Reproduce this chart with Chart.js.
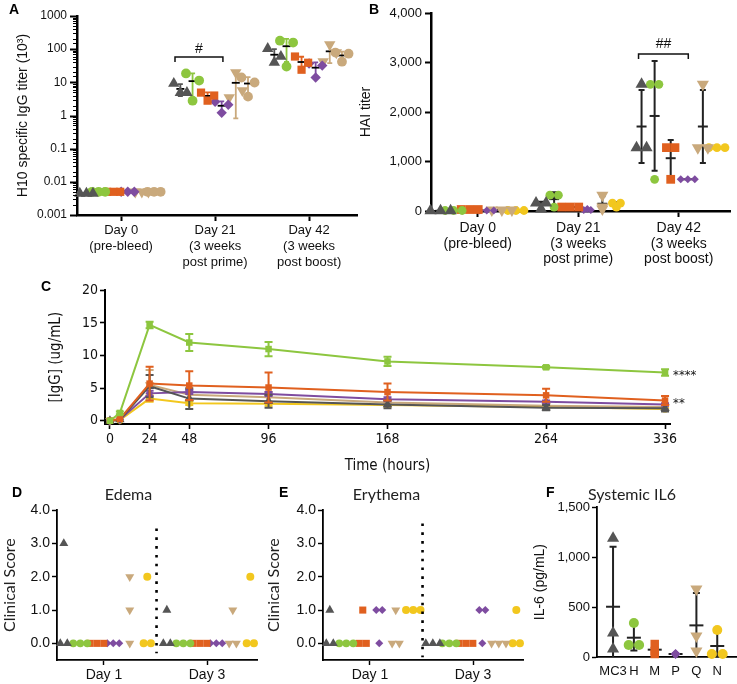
<!DOCTYPE html>
<html lang="en">
<head>
<meta charset="utf-8">
<title>H10 immunogenicity panels</title>
<script src="https://cdn.jsdelivr.net/npm/chart.js@4.4.1/dist/chart.umd.min.js"></script>
<style>
  html, body { margin: 0; padding: 0; background: #fff; overflow: hidden; }
  body { position: relative; width: 737px; height: 684px; }
  canvas { position: absolute; }
  .tag { position: absolute; font: bold 14px "Liberation Sans", Arial, sans-serif; line-height: 14px; color: #000; }
</style>
</head>
<body>
<canvas id="chartA" width="365" height="280" style="left:0;top:0"></canvas>
<canvas id="chartB" width="382" height="280" style="left:355px;top:0"></canvas>
<canvas id="chartC" width="737" height="204" style="left:0;top:280px"></canvas>
<canvas id="chartD" width="296" height="204" style="left:0;top:480px"></canvas>
<canvas id="chartE" width="346" height="204" style="left:250px;top:480px"></canvas>
<canvas id="chartF" width="228" height="204" style="left:528px;top:480px"></canvas>
<div class="tag" style="left:9px;top:2px">A</div>
<div class="tag" style="left:369px;top:2px">B</div>
<div class="tag" style="left:41px;top:279px">C</div>
<div class="tag" style="left:12px;top:485px">D</div>
<div class="tag" style="left:279px;top:485px">E</div>
<div class="tag" style="left:546px;top:485px">F</div>
<script>
Chart.defaults.font.family = '"Liberation Sans", Arial, sans-serif';
Chart.defaults.color = '#111';
Chart.defaults.animation = false;
Chart.defaults.events = [];
Chart.defaults.plugins.legend.display = false;
Chart.defaults.plugins.tooltip.enabled = false;

const gray = '#555555', green = '#8DC63F', orange = '#E0601F', purple = '#7E4CA0', tan = '#C9A97C', yellow = '#F2C71E';
const narrow = '"Liberation Sans Narrow", "Arial Narrow", "DejaVu Sans Condensed", sans-serif';

// group order everywhere: MC3, H, M, P, Q, N
const groupNames = ['MC3', 'H', 'M', 'P', 'Q', 'N'];
const shapes = ['triangle', 'circle', 'rect', 'rectRot', 'triangle', 'circle'];
const turns = [0, 0, 0, 0, 180, 0];

// A - H10 specific IgG titer (10^3), three animals per group: [day0, day21, day42]
const titerDays = [['Day 0', '(pre-bleed)'], ['Day 21', '(3 weeks', 'post prime)'], ['Day 42', '(3 weeks', 'post boost)']];
const igMC3 = [[0.0045, 0.0045, 0.0045], [9.2, 4.9, 4.9], [104, 40, 60]];
const igH = [[0.005, 0.005, 0.005], [18.5, 2.8, 11.3], [180, 30, 158]];
const igM = [[0.005, 0.005, 0.005], [4.9, 2.8, 4.0], [60, 24, 39]];
const igP = [[0.005, 0.005, 0.005], [2.6, 1.2, 2.1], [37, 14, 32]];
const igQ = [[0.005, 0.005, 0.005], [3.5, 19.8, 5.7], [42, 137, 79]];
const igN = [[0.005, 0.005, 0.005], [14, 3.7, 9.9], [79, 42, 73]];

// B - HAI titer
const haiMC3 = [[5, 5, 5], [160, 40, 160], [1280, 2560, 1280]];
const haiH = [[10, 10, 10], [320, 80, 320], [2560, 640, 2560]];
const haiM = [[30, 30, 30], [80, 80, 80], [1280, 640, 1280]];
const haiP = [[10, 10, 10], [40, 20, 20], [640, 640, 640]];
const haiQ = [[20, 20, 20], [320, 80, 40], [1280, 2560, 1280]];
const haiN = [[10, 10, 10], [160, 80, 160], [1280, 1280, 1280]];
const haiTicks = [0, 1000, 2000, 3000, 4000];

// C - serum IgG over time (mean and error)
const hours = [0, 6, 24, 48, 96, 168, 264, 336];
const hourTicks = [0, 24, 48, 96, 168, 264, 336];
const pkH = [0, 1.2, 14.7, 12.0, 11.0, 9.1, 8.2, 7.4];
const pkHErr = [0, 0.2, 0.5, 1.3, 1.1, 0.7, 0.2, 0.5];
const pkM = [0, 0.3, 5.7, 5.4, 5.1, 4.4, 3.9, 3.1];
const pkMErr = [0, 0, 2.6, 2.2, 2.3, 1.3, 1.0, 0.7];
const pkMC3 = [0, 0.2, 5.3, 3.4, 3.0, 2.5, 2.0, 1.9];
const pkMC3Err = [0, 0, 1.7, 1.6, 1.0, 0.6, 0.4, 0.5];
const pkP = [0, 0.2, 4.2, 4.4, 4.1, 3.3, 2.9, 2.5];
const pkPErr = [0, 0, 0.4, 0.3, 0.3, 0.3, 0.2, 0.2];
const pkQ = [0, 0.2, 5.5, 4.0, 3.6, 2.8, 2.3, 2.1];
const pkQErr = [0, 0, 2.3, 0.8, 0.8, 0.5, 0.4, 0.3];
const pkN = [0, 0.1, 3.4, 2.7, 2.6, 2.4, 2.1, 1.8];
const pkNErr = [0, 0, 0.5, 0.3, 0.3, 0.2, 0.2, 0.2];
const pkTicks = [0, 5, 10, 15, 20];

// D / E - clinical scores: [day1, day3]
const scoreDays = ['Day 1', 'Day 3'];
const scoreTicks = [0, 1, 2, 3, 4];
const edemaMC3 = [[0, 3, 0], [1, 0, 0]];
const edemaH = [[0, 0, 0], [0, 0, 0]];
const edemaM = [[0, 0, 0], [0, 0, 0]];
const edemaP = [[0, 0, 0], [0, 0, 0]];
const edemaQ = [[2, 1, 0], [1, 0, 0]];
const edemaN = [[2, 0, 0], [2, 0, 0]];
const erythemaMC3 = [[1, 0, 0], [0, 0, 0]];
const erythemaH = [[0, 0, 0], [0, 0, 0]];
const erythemaM = [[1, 0, 0], [0, 0, 0]];
const erythemaP = [[1, 1, 0], [1, 1, 0]];
const erythemaQ = [[1, 0, 0], [0, 0, 0]];
const erythemaN = [[1, 1, 1], [1, 0, 0]];

// F - systemic IL-6 (pg/mL)
const il6MC3 = [1190, 240, 80];
const il6H = [340, 120, 120];
const il6M = [130, 60, 30];
const il6P = [35, 30, 25];
const il6Q = [680, 210, 60];
const il6N = [270, 30, 30];
const il6Ticks = [0, 500, 1000, 1500];

function mean(a) { return a.reduce((s, v) => s + v, 0) / a.length; }
function sd(a) {
  const m = mean(a);
  return Math.sqrt(a.reduce((s, v) => s + (v - m) * (v - m), 0) / (a.length - 1));
}
function isDecade(v) { const l = Math.log10(v); return Math.abs(l - Math.round(l)) < 1e-9; }

// where the animals of one group sit around the group centre
function byIndex(step) {
  return (vals, c) => vals.map((v, i) => c + (i - (vals.length - 1) / 2) * step);
}
// equal values are laid side by side, like the GraphPad scatter
function byTies(steps) {
  return (vals, c, g) => {
    const count = {}, seen = {};
    vals.forEach(v => { count[v] = (count[v] || 0) + 1; });
    return vals.map(v => {
      const i = seen[v] = (seen[v] === undefined ? 0 : seen[v] + 1);
      return c + (i - (count[v] - 1) / 2) * steps[g];
    });
  };
}

function scatterSets(groups, offsets, colors, radii, place) {
  return groups.map((days, g) => ({
    data: days.flatMap((vals, d) => {
      const xs = place(vals, d + offsets[g], g);
      return vals.map((v, i) => ({ x: xs[i], y: v }));
    }),
    showLine: false,
    clip: false,
    pointStyle: shapes[g],
    pointRotation: turns[g],
    pointRadius: radii[g],
    pointBackgroundColor: colors[g],
    pointBorderColor: colors[g],
    pointBorderWidth: 0
  }));
}

// mean line with SD whiskers for every group and day
function summaryPlugin(groups, offsets, st) {
  return {
    id: 'summary',
    beforeDatasetsDraw(chart) {
      const { ctx, scales: { x, y } } = chart;
      ctx.save();
      ctx.lineWidth = st.width;
      groups.forEach((days, g) => days.forEach((vals, d) => {
        const m = mean(vals), s = sd(vals);
        const px = x.getPixelForValue(d + offsets[g]);
        const pm = y.getPixelForValue(m);
        ctx.strokeStyle = st.errColor ? st.errColor[g] : st.color;
        if (s > 0) {
          const top = Math.max(y.getPixelForValue(m + s), chart.chartArea.top);
          let bot = chart.chartArea.bottom, cap = false;
          if (m - s > y.min) { bot = y.getPixelForValue(m - s); cap = true; }
          else if (y.type === 'logarithmic') { bot = pm; }
          ctx.beginPath();
          ctx.moveTo(px, top); ctx.lineTo(px, bot);
          ctx.moveTo(px - st.cap, top); ctx.lineTo(px + st.cap, top);
          if (cap) { ctx.moveTo(px - st.cap, bot); ctx.lineTo(px + st.cap, bot); }
          ctx.stroke();
        }
        ctx.strokeStyle = st.color;
        ctx.beginPath();
        ctx.moveTo(px - st.half, pm); ctx.lineTo(px + st.half, pm);
        ctx.stroke();
      }));
      ctx.restore();
    }
  };
}

function bracketPlugin(x1, x2, yv, label, drop, gap) {
  return {
    id: 'bracket',
    afterDatasetsDraw(chart) {
      const { ctx, scales: { x, y } } = chart;
      const a = x.getPixelForValue(x1), b = x.getPixelForValue(x2), py = y.getPixelForValue(yv);
      ctx.save();
      ctx.strokeStyle = '#111';
      ctx.lineWidth = 1.5;
      ctx.beginPath();
      ctx.moveTo(a, py + drop); ctx.lineTo(a, py); ctx.lineTo(b, py); ctx.lineTo(b, py + drop);
      ctx.stroke();
      ctx.fillStyle = '#111';
      ctx.font = '14px "Liberation Sans", Arial, sans-serif';
      ctx.textAlign = 'center';
      ctx.textBaseline = 'alphabetic';
      ctx.fillText(label, (a + b) / 2, py - gap);
      ctx.restore();
    }
  };
}

function dividerPlugin(xv, yTop, yBottom) {
  return {
    id: 'divider',
    afterDatasetsDraw(chart) {
      const { ctx, scales: { x, y } } = chart;
      const px = x.getPixelForValue(xv);
      ctx.save();
      ctx.strokeStyle = '#000';
      ctx.lineWidth = 2.6;
      ctx.setLineDash([2.6, 6.2]);
      ctx.beginPath();
      ctx.moveTo(px, y.getPixelForValue(yTop));
      ctx.lineTo(px, y.getPixelForValue(yBottom));
      ctx.stroke();
      ctx.restore();
    }
  };
}

// small and large tick marks on the log axis
const logTicks = {
  id: 'logTicks',
  afterDraw(chart) {
    const { ctx } = chart, s = chart.scales.y;
    ctx.save();
    ctx.strokeStyle = '#000';
    s.ticks.forEach(t => {
      const py = Math.round(s.getPixelForValue(t.value)) + 0.5;
      const major = isDecade(t.value);
      ctx.lineWidth = major ? 2 : 1;
      ctx.beginPath();
      ctx.moveTo(s.right - (major ? 7 : 4), py);
      ctx.lineTo(s.right, py);
      ctx.stroke();
    });
    ctx.restore();
  }
};

function blackAxis(width, tickLen) {
  return {
    border: { color: '#000', width: width },
    grid: { drawOnChartArea: false, tickLength: tickLen, tickWidth: width * 0.8, tickColor: '#000' }
  };
}

// ---------- A
const offsetsA = [-0.37, -0.24, -0.08, 0.07, 0.22, 0.35];
const titerGroups = [igMC3, igH, igM, igP, igQ, igN];
new Chart('chartA', {
  type: 'scatter',
  data: { datasets: scatterSets(titerGroups, offsetsA, [gray, green, orange, purple, tan, tan], [6.6, 4.9, 5.8, 5.2, 6.6, 4.9], byIndex(0.07)) },
  options: {
    responsive: false,
    layout: { padding: { top: 16, right: 8, left: 0, bottom: 0 } },
    scales: {
      x: {
        type: 'linear', min: -0.47, max: 2.51,
        afterBuildTicks: s => { s.ticks = titerDays.map((_, i) => ({ value: i })); },
        afterFit: s => { s.height = 65; },
        ticks: { callback: v => titerDays[v], autoSkip: false, maxRotation: 0, padding: 2, font: { size: 13, lineHeight: 1.2 } },
        ...blackAxis(2.5, 6)
      },
      y: {
        type: 'logarithmic', min: 0.001, max: 1000,
        afterFit: s => { s.width = 77; },
        ticks: { callback: v => isDecade(v) ? String(+v.toPrecision(1)) : '', autoSkip: false, padding: 3, font: { size: 12 } },
        border: { color: '#000', width: 2.5 },
        grid: { drawOnChartArea: false, tickLength: 7, tickColor: 'rgba(0,0,0,0)' },
        title: { display: true, text: 'H10 specific IgG titer (10³)', font: { size: 14 }, padding: { top: 15, bottom: 0 } }
      }
    }
  },
  plugins: [
    summaryPlugin(titerGroups, offsetsA, { color: '#000', errColor: [gray, green, orange, purple, tan, tan], width: 1.8, half: 4, cap: 2.5 }),
    logTicks,
    bracketPlugin(0.573, 1.083, 58, '#', 5, 4)
  ]
});

// ---------- B
const offsetsB = [-0.37, -0.24, -0.08, 0.09, 0.24, 0.38];
const haiGroups = [haiMC3, haiH, haiM, haiP, haiQ, haiN];
new Chart('chartB', {
  type: 'scatter',
  data: { datasets: scatterSets(haiGroups, offsetsB, [gray, green, orange, purple, tan, yellow], [7, 4.4, 6.2, 4, 7, 4.4], byTies([0.1, 0.085, 0.085, 0.07, 0.1, 0.08])) },
  options: {
    responsive: false,
    layout: { padding: { top: 13, right: 5, left: 0, bottom: 0 } },
    scales: {
      x: {
        type: 'linear', min: -0.465, max: 2.51,
        afterBuildTicks: s => { s.ticks = titerDays.map((_, i) => ({ value: i })); },
        afterFit: s => { s.height = 69; },
        ticks: { callback: v => titerDays[v], autoSkip: false, maxRotation: 0, padding: 3, font: { size: 14, lineHeight: 1.13 } },
        ...blackAxis(2.5, 6)
      },
      y: {
        type: 'linear', min: 0, max: 4000,
        afterBuildTicks: s => { s.ticks = haiTicks.map(v => ({ value: v })); },
        afterFit: s => { s.width = 76; },
        ticks: { callback: v => v.toLocaleString('en-US'), autoSkip: false, padding: 3, font: { size: 13 } },
        ...blackAxis(2.5, 6),
        title: { display: true, text: 'HAI titer', font: { size: 14 }, padding: { top: 3, bottom: 0 } }
      }
    }
  },
  plugins: [
    summaryPlugin(haiGroups, offsetsB, { color: '#222', width: 2, half: 5, cap: 3 }),
    bracketPlugin(1.60, 2.095, 3170, '##', 5, 6)
  ]
});

// ---------- C
const pkSeries = [
  { vals: pkH, errs: pkHErr, color: green, shape: 'rect', rot: 0, r: 4.6 },
  { vals: pkM, errs: pkMErr, color: orange, shape: 'rect', rot: 0, r: 4.6 },
  { vals: pkMC3, errs: pkMC3Err, color: gray, shape: 'triangle', rot: 0, r: 5.4 },
  { vals: pkP, errs: pkPErr, color: purple, shape: 'rectRot', rot: 0, r: 4.2 },
  { vals: pkQ, errs: pkQErr, color: tan, shape: 'triangle', rot: 180, r: 5.4 },
  { vals: pkN, errs: pkNErr, color: yellow, shape: 'circle', rot: 0, r: 3.6 }
];
const pkStars = [['****', pkH], ['**', pkM]];

const pkErrorBars = {
  id: 'pkErrorBars',
  afterDatasetDraw(chart, args) {
    const ds = chart.data.datasets[args.index];
    const { ctx, scales: { x, y } } = chart;
    ctx.save();
    ctx.strokeStyle = ds.borderColor;
    ctx.lineWidth = 2;
    ds.data.forEach((p, i) => {
      const e = ds.errs[i];
      if (!e) return;
      const px = x.getPixelForValue(p.x), hi = y.getPixelForValue(p.y + e), lo = y.getPixelForValue(p.y - e);
      ctx.beginPath();
      ctx.moveTo(px, hi); ctx.lineTo(px, lo);
      ctx.moveTo(px - 4, hi); ctx.lineTo(px + 4, hi);
      ctx.moveTo(px - 4, lo); ctx.lineTo(px + 4, lo);
      ctx.stroke();
    });
    ctx.restore();
  },
  afterDatasetsDraw(chart) {
    const { ctx, scales: { x, y } } = chart;
    const last = hours.length - 1;
    ctx.save();
    ctx.fillStyle = '#111';
    ctx.font = '13px ' + narrow;
    ctx.textAlign = 'left';
    ctx.textBaseline = 'middle';
    pkStars.forEach(([txt, vals]) => {
      ctx.fillText(txt, x.getPixelForValue(hours[last]) + 8, y.getPixelForValue(vals[last]) + 3);
    });
    ctx.restore();
  }
};

new Chart('chartC', {
  type: 'line',
  data: {
    datasets: pkSeries.map(s => ({
      data: hours.map((h, i) => ({ x: h, y: s.vals[i] })),
      errs: s.errs,
      borderColor: s.color,
      backgroundColor: s.color,
      borderWidth: 2,
      tension: 0,
      clip: false,
      pointStyle: s.shape,
      pointRotation: s.rot,
      pointRadius: s.r,
      pointBorderWidth: 0
    }))
  },
  options: {
    responsive: false,
    layout: { padding: { top: 10, right: 67, left: 0, bottom: 0 } },
    scales: {
      x: {
        type: 'linear', min: -3, max: 339,
        afterBuildTicks: s => { s.ticks = hourTicks.map(v => ({ value: v })); },
        afterFit: s => { s.height = 60; },
        ticks: { autoSkip: false, maxRotation: 0, padding: 2, font: { size: 14, family: narrow } },
        ...blackAxis(2, 5),
        title: { display: true, text: 'Time (hours)', font: { size: 15, family: narrow }, padding: { top: 0, bottom: 9 } }
      },
      y: {
        type: 'linear', min: -0.5, max: 20,
        afterBuildTicks: s => { s.ticks = pkTicks.map(v => ({ value: v })); },
        afterFit: s => { s.width = 105; },
        ticks: { autoSkip: false, padding: 2, font: { size: 14, family: narrow } },
        ...blackAxis(2, 5),
        title: { display: true, text: '[IgG] (ug/mL)', font: { size: 15, family: narrow }, padding: { top: 47, bottom: 0 } }
      }
    }
  },
  plugins: [pkErrorBars]
});

// ---------- D and E
const offsetsDE = [-0.39, -0.23, -0.07, 0.09, 0.25, 0.42];
const radiiDE = [5.2, 3.9, 5, 4, 5.2, 4];
const colorsDE = [gray, green, orange, purple, tan, yellow];
const tiesDE = byTies([0.068, 0.068, 0.068, 0.058, 0.07, 0.07]);

function scoreChart(id, title, groups, yAxisWidth, rightPad, titlePad, divTop, divBottom) {
  return new Chart(id, {
    type: 'scatter',
    data: { datasets: scatterSets(groups, offsetsDE, colorsDE, radiiDE, tiesDE) },
    options: {
      responsive: false,
      layout: { padding: { top: 0, right: rightPad, left: 0, bottom: 0 } },
      plugins: {
        title: { display: true, text: title, font: { family: 'Lato, "Open Sans", sans-serif', size: 16, weight: 'normal' }, color: '#222', padding: { top: 5, bottom: 6 } }
      },
      scales: {
        x: {
          type: 'linear', min: -0.456, max: 1.485,
          afterBuildTicks: s => { s.ticks = scoreDays.map((_, i) => ({ value: i })); },
          afterFit: s => { s.height = 24; },
          ticks: { callback: v => scoreDays[v], autoSkip: false, maxRotation: 0, padding: 2, font: { size: 14 } },
          ...blackAxis(1.8, 5)
        },
        y: {
          type: 'linear', min: -0.5, max: 4,
          afterBuildTicks: s => { s.ticks = scoreTicks.map(v => ({ value: v })); },
          afterFit: s => { s.width = yAxisWidth; },
          ticks: { callback: v => v.toFixed(1), autoSkip: false, padding: 2, font: { size: 14 } },
          ...blackAxis(1.8, 5),
          title: { display: true, text: 'Clinical Score', font: { family: 'Lato, "Open Sans", sans-serif', size: 16 }, color: '#222', padding: { top: titlePad, bottom: 0 } }
        }
      }
    },
    plugins: [dividerPlugin(0.51, divTop, divBottom)]
  });
}

scoreChart('chartD', 'Edema', [edemaMC3, edemaH, edemaM, edemaP, edemaQ, edemaN], 57, 39, 0, 3.45, -0.3);
scoreChart('chartE', 'Erythema', [erythemaMC3, erythemaH, erythemaM, erythemaP, erythemaQ, erythemaN], 73, 73, 14, 3.6, -0.42);

// ---------- F
const il6Groups = [[il6MC3], [il6H], [il6M], [il6P], [il6Q], [il6N]];
const offsetsF = [0, 1, 2, 3, 4, 5];
new Chart('chartF', {
  type: 'scatter',
  data: { datasets: scatterSets(il6Groups, offsetsF, colorsDE, [7, 5, 6, 4.6, 7, 5], byTies([0.5, 0.5, 0.5, 0.4, 0.5, 0.52])) },
  options: {
    responsive: false,
    layout: { padding: { top: 0, right: 20, left: 0, bottom: 0 } },
    plugins: {
      title: { display: true, text: 'Systemic IL6', font: { family: 'Lato, "Open Sans", sans-serif', size: 16, weight: 'normal' }, color: '#222', padding: { top: 5, bottom: 3 } }
    },
    scales: {
      x: {
        type: 'linear', min: -0.77, max: 5.9,
        afterBuildTicks: s => { s.ticks = groupNames.map((_, i) => ({ value: i })); },
        afterFit: s => { s.height = 27; },
        ticks: { callback: v => groupNames[v], autoSkip: false, maxRotation: 0, padding: 7, font: { size: 13 } },
        border: { color: '#000', width: 1.8 },
        grid: { drawOnChartArea: false, drawTicks: false }
      },
      y: {
        type: 'linear', min: 0, max: 1500,
        afterBuildTicks: s => { s.ticks = il6Ticks.map(v => ({ value: v })); },
        afterFit: s => { s.width = 69; },
        ticks: { callback: v => v.toLocaleString('en-US'), autoSkip: false, padding: 2, font: { size: 13 } },
        ...blackAxis(1.8, 5),
        title: { display: true, text: 'IL-6 (pg/mL)', font: { size: 14 }, padding: { top: 4, bottom: 0 } }
      }
    }
  },
  plugins: [summaryPlugin(il6Groups, offsetsF, { color: '#222', width: 2, half: 7, cap: 3.5 })]
});
</script>
</body>
</html>
